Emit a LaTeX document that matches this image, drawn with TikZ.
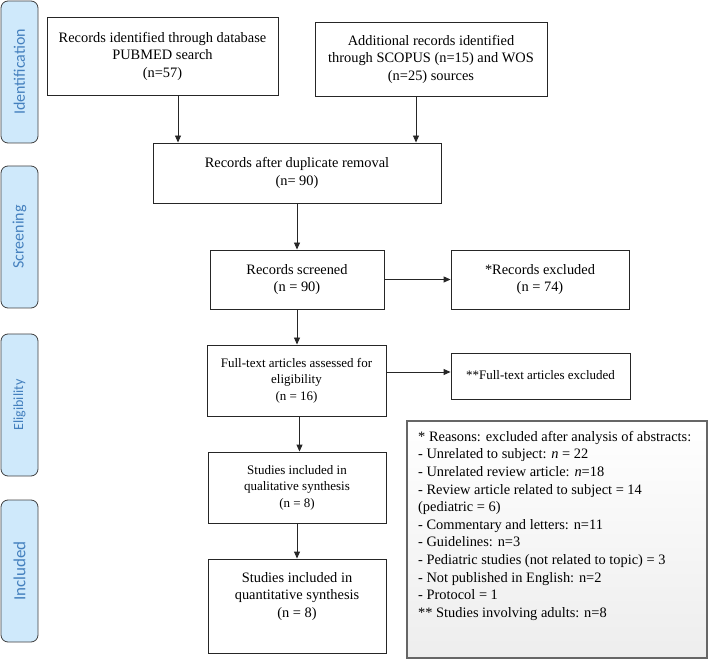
\documentclass[tikz,border=0pt]{standalone}
\usepackage{fontspec}
\setmainfont{Liberation Serif}
\newfontfamily\sidefont{Carlito}
\usetikzlibrary{arrows.meta}
\definecolor{sidefill}{RGB}{207,233,251}
\definecolor{sidetext}{RGB}{68,128,190}
\begin{document}
\begin{tikzpicture}[x=1pt,y=-1pt,
  box/.style={draw=black!85, line width=0.9pt, align=center, inner sep=0pt,
    font=\fontsize{14.4}{17.5}\selectfont},
  smallbox/.style={box, font=\fontsize{13}{16.5}\selectfont},
  side/.style={draw=black!75, line width=0.8pt, fill=sidefill, rounded corners=7pt,
    inner sep=0pt, rotate=90, minimum width=142pt, minimum height=37pt,
    text=sidetext, font=\sidefont\fontsize{16}{18}\selectfont},
  arr/.style={-{Triangle[length=7pt,width=6pt]}, line width=0.9pt, draw=black!85}]
\useasboundingbox (0,0) rectangle (710,660);

% phase bars
\node[side] (sid) at (19.5,72) {Identification};
\node[side] (ssc) at (19.5,237) {Screening};
\node[side, font=\sidefont\fontsize{14}{16}\selectfont] (sel) at (19.5,405) {Eligibility};
\node[side, font=\sidefont\fontsize{17}{19}\selectfont] (sin) at (19.5,571) {Included};

% boxes
\node[box, minimum width=231pt, minimum height=78pt] (b1) at (162.5,56)
  {Records identified through database\\PUBMED search\\(n=57)};
\node[box, minimum width=232pt, minimum height=74pt] (b2) at (431,59)
  {Additional records identified\\through SCOPUS (n=15) and WOS\\(n=25) sources};
\node[box, minimum width=288pt, minimum height=60pt] (b3) at (297,173)
  {Records after duplicate removal\\(n= 90)};
\node[box, minimum width=174pt, minimum height=59pt] (b4) at (297,279.5)
  {Records screened\\(n = 90)};
\node[box, minimum width=178pt, minimum height=59pt] (b5) at (540,279.5)
  {*Records excluded\\(n = 74)};
\node[smallbox, minimum width=179pt, minimum height=71pt] (b6) at (296.5,380.5)
  {Full-text articles assessed for\\eligibility\\(n = 16)};
\node[smallbox, minimum width=179pt, minimum height=46pt] (b7) at (540.5,376)
  {\raisebox{2pt}{**Full-text articles excluded}};
\node[smallbox, minimum width=178pt, minimum height=71pt] (b8) at (297,487.5)
  {Studies included in\\qualitative synthesis\\(n = 8)};
\node[box, minimum width=178pt, minimum height=94pt] (b9) at (297,606)
  {Studies included in\\quantitative synthesis\\(n = 8)\\[4.5pt]\mbox{}};

% reasons box
\node[draw=black!60, line width=1.2pt, top color=white, bottom color=black!7,
  minimum width=300pt, minimum height=237pt, inner sep=0pt] (rb) at (557,539.5) {};
\node[anchor=north west, align=left, inner sep=0pt,
  font=\fontsize{14.4}{17.6}\selectfont] (rt) at (418,431)
  {* Reasons: excluded after analysis of abstracts:\\
   - Unrelated to subject: \textit{n} = 22\\
   - Unrelated review article: \textit{n}=18\\
   - Review article related to subject = 14\\
   (pediatric = 6)\\
   - Commentary and letters: n=11\\
   - Guidelines: n=3\\
   - Pediatric studies (not related to topic) = 3\\
   - Not published in English: n=2\\
   - Protocol = 1\\
   ** Studies involving adults: n=8};

% arrows
\draw[arr] ([xshift=15.5pt]b1.south) -- ([xshift=15.5pt]b1.south |- b3.north);
\draw[arr] ([xshift=-15pt]b2.south) -- ([xshift=-15pt]b2.south |- b3.north);
\draw[arr] (b3.south) -- (b4.north);
\draw[arr] (b4.east) -- (b5.west);
\draw[arr] (b4.south) -- (b4.south |- b6.north);
\draw[arr] ([yshift=8.5pt]b6.east) -- ([yshift=8.5pt]b6.east -| b7.west);
\draw[arr] ([xshift=3pt]b6.south) -- ([xshift=3pt]b6.south |- b8.north);
\draw[arr] (b8.south) -- (b9.north);
\end{tikzpicture}
\end{document}
